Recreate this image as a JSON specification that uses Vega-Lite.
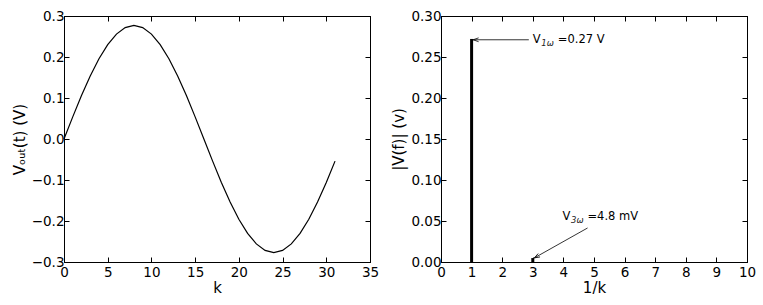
{
  "$schema": "https://vega.github.io/schema/vega-lite/v6.json",
  "padding": {"left": 11, "top": 8, "right": 14, "bottom": 5},
  "spacing": 11,
  "config": {
    "font": "DejaVu Sans",
    "view": {"stroke": "black", "strokeWidth": 1},
    "axis": {
      "domainColor": "black", "tickColor": "black", "labelColor": "black", "titleColor": "black",
      "labelFont": "DejaVu Sans", "titleFont": "DejaVu Sans",
      "labelFontSize": 13.5, "titleFontSize": 15, "titleFontWeight": "normal",
      "grid": false, "tickSize": -5, "labelFlush": false, "labelOverlap": false, "labelBound": false
    },
    "axisX": {"labelPadding": 8, "titlePadding": 2},
    "axisY": {"labelPadding": 5, "titlePadding": 4}
  },
  "datasets": {
    "wave": [
      {"k": 0, "v": 0.0}, {"k": 1, "v": 0.054}, {"k": 2, "v": 0.106}, {"k": 3, "v": 0.1539},
      {"k": 4, "v": 0.1959}, {"k": 5, "v": 0.2303}, {"k": 6, "v": 0.2559}, {"k": 7, "v": 0.2717},
      {"k": 8, "v": 0.277}, {"k": 9, "v": 0.2717}, {"k": 10, "v": 0.2559}, {"k": 11, "v": 0.2303},
      {"k": 12, "v": 0.1959}, {"k": 13, "v": 0.1539}, {"k": 14, "v": 0.106}, {"k": 15, "v": 0.054},
      {"k": 16, "v": 0.0}, {"k": 17, "v": -0.054}, {"k": 18, "v": -0.106}, {"k": 19, "v": -0.1539},
      {"k": 20, "v": -0.1959}, {"k": 21, "v": -0.2303}, {"k": 22, "v": -0.2559}, {"k": 23, "v": -0.2717},
      {"k": 24, "v": -0.277}, {"k": 25, "v": -0.2717}, {"k": 26, "v": -0.2559}, {"k": 27, "v": -0.2303},
      {"k": 28, "v": -0.1959}, {"k": 29, "v": -0.1539}, {"k": 30, "v": -0.106}, {"k": 31, "v": -0.054}
    ],
    "spectrum": [
      {"f": 1, "v": 0.272},
      {"f": 3, "v": 0.0048}
    ],
    "arrows": [
      {"id": "a1", "x": 2.87, "y": 0.271, "x2": 1.05, "y2": 0.271},
      {"id": "a3", "x": 4.79, "y": 0.0415, "x2": 3.05, "y2": 0.005}
    ],
    "notes": [
      {"x": 3.0, "y": 0.271, "main": "V", "sub": "1ω", "rest": "=0.27 V"},
      {"x": 3.97, "y": 0.055, "main": "V", "sub": "3ω", "rest": "=4.8 mV"}
    ]
  },
  "hconcat": [
    {
      "width": 306, "height": 246,
      "layer": [
        {
          "data": {"name": "wave"},
          "mark": {"type": "line", "color": "black", "strokeWidth": 1.2},
          "encoding": {
            "x": {"field": "k", "type": "quantitative", "scale": {"domain": [0, 35], "nice": false},
                  "axis": {"title": "k", "values": [0, 5, 10, 15, 20, 25, 30, 35]}},
            "y": {"field": "v", "type": "quantitative", "scale": {"domain": [-0.3, 0.3], "nice": false},
                  "axis": {"title": "Vₒᵤₜ(t) (V)", "values": [-0.3, -0.2, -0.1, 0, 0.1, 0.2, 0.3], "format": ".1f"}}
          }
        },
        {
          "data": {"name": "wave"},
          "mark": {"type": "line", "opacity": 0},
          "encoding": {
            "x": {"field": "k", "type": "quantitative",
                  "axis": {"orient": "top", "labels": false, "title": null, "values": [0, 5, 10, 15, 20, 25, 30, 35]}},
            "y": {"field": "v", "type": "quantitative",
                  "axis": {"orient": "right", "labels": false, "title": null, "values": [-0.3, -0.2, -0.1, 0, 0.1, 0.2, 0.3]}}
          }
        }
      ],
      "resolve": {"axis": {"x": "independent", "y": "independent"}}
    },
    {
      "width": 306, "height": 246,
      "layer": [
        {
          "data": {"name": "spectrum"},
          "mark": {"type": "rule", "color": "black", "strokeWidth": 3},
          "encoding": {
            "x": {"field": "f", "type": "quantitative", "scale": {"domain": [0, 10], "nice": false},
                  "axis": {"title": "1/k", "values": [0, 1, 2, 3, 4, 5, 6, 7, 8, 9, 10]}},
            "y": {"field": "v", "type": "quantitative", "scale": {"domain": [0, 0.3], "nice": false},
                  "axis": {"title": "|V(f)| (v)", "values": [0, 0.05, 0.1, 0.15, 0.2, 0.25, 0.3], "format": ".2f"}},
            "y2": {"datum": 0}
          }
        },
        {
          "data": {"name": "spectrum"},
          "mark": {"type": "point", "opacity": 0},
          "encoding": {
            "x": {"field": "f", "type": "quantitative",
                  "axis": {"orient": "top", "labels": false, "title": null, "values": [0, 1, 2, 3, 4, 5, 6, 7, 8, 9, 10]}},
            "y": {"field": "v", "type": "quantitative",
                  "axis": {"orient": "right", "labels": false, "title": null, "values": [0, 0.05, 0.1, 0.15, 0.2, 0.25, 0.3]}}
          }
        },
        {
          "data": {"name": "arrows"},
          "mark": {"type": "rule", "color": "black", "strokeWidth": 0.8},
          "encoding": {
            "x": {"field": "x", "type": "quantitative", "axis": null},
            "y": {"field": "y", "type": "quantitative", "axis": null},
            "x2": {"field": "x2"},
            "y2": {"field": "y2"}
          }
        },
        {
          "data": {"name": "arrows"},
          "transform": [{"filter": "datum.id === 'a1'"}],
          "mark": {"type": "point", "shape": "M2,-0.7L0,0L2,0.7", "filled": false, "stroke": "black", "strokeWidth": 0.8, "size": 30, "opacity": 1},
          "encoding": {
            "x": {"field": "x2", "type": "quantitative", "axis": null},
            "y": {"field": "y2", "type": "quantitative", "axis": null}
          }
        },
        {
          "data": {"name": "arrows"},
          "transform": [{"filter": "datum.id === 'a3'"}],
          "mark": {"type": "point", "shape": "M2,-0.7L0,0L2,0.7", "filled": false, "stroke": "black", "strokeWidth": 0.8, "size": 30, "opacity": 1, "angle": 331},
          "encoding": {
            "x": {"field": "x2", "type": "quantitative", "axis": null},
            "y": {"field": "y2", "type": "quantitative", "axis": null}
          }
        },
        {
          "data": {"name": "notes"},
          "mark": {"type": "text", "align": "left", "baseline": "middle", "fontSize": 11.5, "color": "black", "font": "DejaVu Sans"},
          "encoding": {
            "x": {"field": "x", "type": "quantitative", "axis": null},
            "y": {"field": "y", "type": "quantitative", "axis": null},
            "text": {"field": "main"}
          }
        },
        {
          "data": {"name": "notes"},
          "mark": {"type": "text", "align": "left", "baseline": "middle", "fontSize": 8.5, "fontStyle": "italic", "color": "#222", "dx": 8.5, "dy": 3, "font": "DejaVu Sans"},
          "encoding": {
            "x": {"field": "x", "type": "quantitative", "axis": null},
            "y": {"field": "y", "type": "quantitative", "axis": null},
            "text": {"field": "sub"}
          }
        },
        {
          "data": {"name": "notes"},
          "mark": {"type": "text", "align": "left", "baseline": "middle", "fontSize": 11.5, "color": "black", "dx": 25, "font": "DejaVu Sans"},
          "encoding": {
            "x": {"field": "x", "type": "quantitative", "axis": null},
            "y": {"field": "y", "type": "quantitative", "axis": null},
            "text": {"field": "rest"}
          }
        }
      ],
      "resolve": {"axis": {"x": "independent", "y": "independent"}}
    }
  ]
}
